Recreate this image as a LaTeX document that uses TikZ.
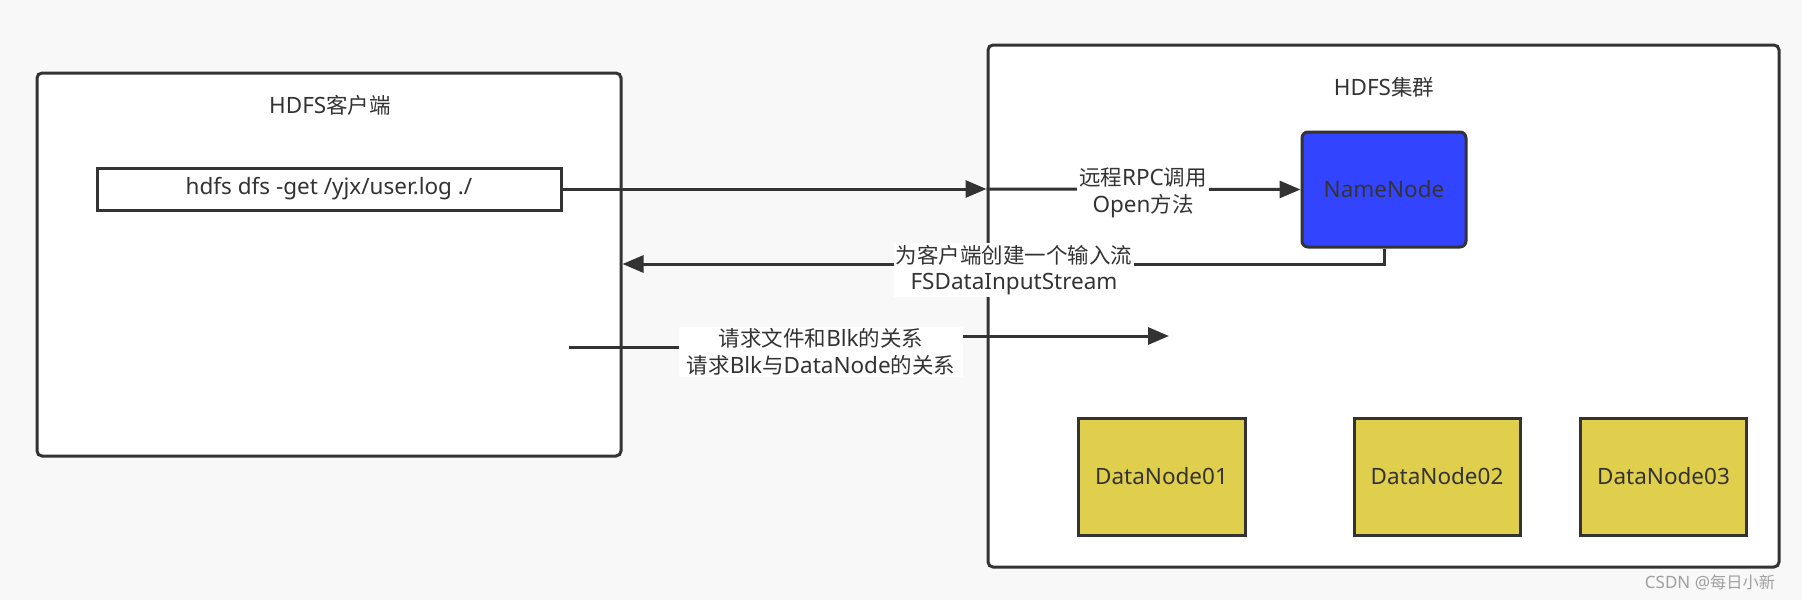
\documentclass[tikz,border=0pt]{standalone}
\usepackage{fontspec}
\setmainfont{Noto Sans}
\newfontfamily\cjk[Scale=0.955]{Noto Sans CJK SC}
\usetikzlibrary{arrows.meta}
\definecolor{ln}{HTML}{333333}
\definecolor{bg}{HTML}{F8F8F8}
\definecolor{nnblue}{HTML}{3344FF}
\definecolor{dnyel}{HTML}{E0CF4D}
\definecolor{wm}{HTML}{A0A0A0}
\tikzset{
  bigbox/.style={draw=ln, line width=3pt, fill=white, rounded corners=5pt, inner sep=0pt},
  cmdbox/.style={draw=ln, line width=3pt, fill=white, inner sep=0pt, text=ln},
  nnbox/.style={draw=ln, line width=3pt, fill=nnblue, rounded corners=6pt, inner sep=0pt, text=ln},
  dnbox/.style={draw=ln, line width=3pt, fill=dnyel, inner sep=0pt, text=ln},
  ttl/.style={text=ln, inner sep=0pt},
  conn/.style={draw=ln, line width=3pt, -{Triangle[length=21pt,width=17pt]}},
  lbl/.style={fill=white, text=ln, align=center, inner sep=2pt, font=\fontsize{22.5}{26.5}\selectfont},
}
\begin{document}
\begin{tikzpicture}[x=1pt,y=-1pt, font=\fontsize{22.5}{26.5}\selectfont]
\fill[bg] (0,0) rectangle (1802,600);
\useasboundingbox (0,0) rectangle (1802,600);
% containers
\node[bigbox, minimum width=584pt, minimum height=383pt] (client) at (329,264.5) {};
\node[bigbox, minimum width=791pt, minimum height=522pt] (cluster) at (1383.5,306) {};
\node[ttl] (clientttl) at (330,105) {HDFS{\cjk 客户端}};
\node[ttl] (clusterttl) at (1384,87) {HDFS{\cjk 集群}};
% inner nodes
\node[cmdbox, minimum width=464pt, minimum height=42pt] (cmd) at (329,189) {hdfs dfs -get /yjx/user.log ./};
\node[nnbox, minimum width=164pt, minimum height=115pt] (nn) at (1384,189.5) {NameNode};
\node[dnbox, minimum width=167pt, minimum height=117pt] (dn1) at (1161.5,476.5) {DataNode01};
\node[dnbox, minimum width=166pt, minimum height=117pt] (dn2) at (1437,476.5) {DataNode02};
\node[dnbox, minimum width=166pt, minimum height=117pt] (dn3) at (1663.5,476.5) {DataNode03};
% connectors
\coordinate (edge1) at (cmd.east -| cluster.west);
\draw[conn] (cmd.east) -- (edge1);
\draw[conn] (edge1) -- (nn.west);
\node[lbl] (l2) at (1143,193) {{\cjk 远程}RPC{\cjk 调用}\\Open{\cjk 方法}};
\coordinate (ret) at (client.east |- 0,264);
\draw[conn] (nn.south) |- (ret);
\node[lbl] (l3) at (1014,270) {{\cjk 为客户端创建一个输入流}\\FSDataInputStream};
\coordinate (s4) at (569,347);
\coordinate (j4a) at (821,347);
\coordinate (j4b) at (821,336);
\coordinate (t4) at (1169,336);
\draw[conn] (s4) -- (j4a) -- (j4b) -- (t4);
\node[lbl, inner xsep=8pt] (l4) at (821,352) {{\cjk 请求文件和}Blk{\cjk 的关系}\\{\cjk 请求}Blk{\cjk 与}DataNode{\cjk 的关系}};
% watermark
\node[text=wm, inner sep=0pt, font=\fontsize{17}{20}\selectfont] (wmk) at (1710,582) {CSDN @{\cjk 每日小新}};
\end{tikzpicture}
\end{document}
